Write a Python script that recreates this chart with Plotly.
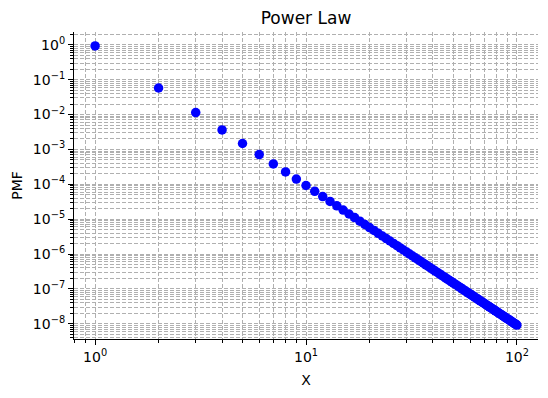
import plotly.graph_objects as go

x_vals = list(range(1, 101))
pmf_vals = [
    9.24e-1, 5.77e-2, 1.14e-2, 3.61e-3, 1.48e-3, 7.13e-4, 3.85e-4, 2.26e-4, 1.41e-4, 9.24e-5,
    6.31e-5, 4.46e-5, 3.23e-5, 2.41e-5, 1.83e-5, 1.41e-5, 1.11e-5, 8.80e-6, 7.09e-6, 5.77e-6,
    4.75e-6, 3.94e-6, 3.30e-6, 2.78e-6, 2.37e-6, 2.02e-6, 1.74e-6, 1.50e-6, 1.31e-6, 1.14e-6,
    1.00e-6, 8.81e-7, 7.79e-7, 6.91e-7, 6.16e-7, 5.50e-7, 4.93e-7, 4.43e-7, 3.99e-7, 3.61e-7,
    3.27e-7, 2.97e-7, 2.70e-7, 2.47e-7, 2.25e-7, 2.06e-7, 1.89e-7, 1.74e-7, 1.60e-7, 1.48e-7,
    1.37e-7, 1.26e-7, 1.17e-7, 1.09e-7, 1.01e-7, 9.39e-8, 8.75e-8, 8.16e-8, 7.62e-8, 7.13e-8,
    6.67e-8, 6.25e-8, 5.87e-8, 5.51e-8, 5.18e-8, 4.87e-8, 4.59e-8, 4.32e-8, 4.08e-8, 3.85e-8,
    3.64e-8, 3.44e-8, 3.25e-8, 3.08e-8, 2.92e-8, 2.77e-8, 2.63e-8, 2.50e-8, 2.37e-8, 2.26e-8,
    2.15e-8, 2.04e-8, 1.95e-8, 1.86e-8, 1.77e-8, 1.69e-8, 1.61e-8, 1.54e-8, 1.47e-8, 1.41e-8,
    1.35e-8, 1.29e-8, 1.24e-8, 1.18e-8, 1.13e-8, 1.09e-8, 1.04e-8, 1.00e-8, 9.62e-9, 9.24e-9,
]

x_tick_exps = [0, 1, 2]
y_tick_exps = [0, -1, -2, -3, -4, -5, -6, -7, -8]

def sup_label(e):
    s = str(e).replace("-", "\u2212")
    return "10<sup>" + s + "</sup>"

x_minor = [m * 10.0 ** d for d in range(-1, 3) for m in range(2, 10)]
y_minor = [m * 10.0 ** d for d in range(-9, 1) for m in range(2, 10)]

FONT = "DejaVu Sans"
GRID = "#b0b0b0"

fig = go.Figure()
fig.add_trace(go.Scatter(
    x=x_vals, y=pmf_vals, mode="markers",
    marker=dict(color="#0000ff", size=9.5, line=dict(width=0)),
    showlegend=False,
))

axis_common = dict(
    type="log",
    showline=True, linecolor="black", linewidth=1.1,
    ticks="outside", ticklen=5, tickwidth=1.1, tickcolor="black",
    showgrid=True, gridcolor=GRID, gridwidth=1, griddash="4px,2px",
    zeroline=False, mirror=False,
    tickfont=dict(family=FONT, size=14, color="black"),
)

fig.update_xaxes(
    **axis_common,
    range=[-0.1, 2.1],
    tickmode="array",
    tickvals=[10.0 ** e for e in x_tick_exps],
    ticktext=[sup_label(e) for e in x_tick_exps],
    minor=dict(tickmode="array", tickvals=x_minor, ticks="outside", ticklen=3,
               tickwidth=0.8, tickcolor="black", showgrid=True,
               gridcolor=GRID, gridwidth=1, griddash="4px,2px"),
    title=dict(text="X", font=dict(family=FONT, size=14, color="black"), standoff=11),
)
fig.update_yaxes(
    **axis_common,
    range=[-8.434, 0.366],
    tickmode="array",
    tickvals=[10.0 ** e for e in y_tick_exps],
    ticktext=[sup_label(e) for e in y_tick_exps],
    minor=dict(tickmode="array", tickvals=y_minor, ticks="outside", ticklen=3,
               tickwidth=0.8, tickcolor="black", showgrid=True,
               gridcolor=GRID, gridwidth=1, griddash="4px,2px"),
    title=dict(text="PMF", font=dict(family=FONT, size=14, color="black"), standoff=6),
)

fig.update_layout(
    width=548, height=398,
    margin=dict(l=74, r=10, t=32, b=59, pad=0),
    paper_bgcolor="white", plot_bgcolor="white",
    title=dict(text="Power Law", font=dict(family=FONT, size=17, color="black"),
               x=(74 + 538) / 2 / 548, xanchor="center", y=1 - 18 / 398, yanchor="middle"),
    font=dict(family=FONT, color="black"),
)

fig.write_html("out.html")
